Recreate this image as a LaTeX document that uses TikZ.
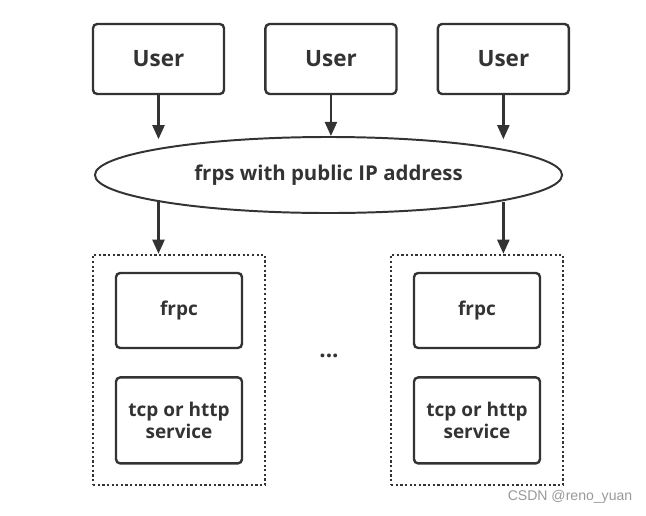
\documentclass[tikz,border=0pt]{standalone}
\usepackage{fontspec}
\setmainfont{Open Sans}
\newfontfamily\markfont{Liberation Sans}
\usetikzlibrary{positioning, shapes.geometric, arrows.meta}

\definecolor{ink}{HTML}{333333}
\definecolor{markgray}{HTML}{999999}

\begin{document}
\begin{tikzpicture}[x=0.025cm, y=-0.025cm, >={Triangle[length=10pt, width=8.5pt]}, ink, line width=1.7pt,
  userbox/.style={draw, rectangle, rounded corners=3pt, minimum width=3.275cm, minimum height=1.75cm, font=\fontsize{16}{19}\selectfont\bfseries},
  hostbox/.style={draw, rectangle, dash pattern=on 1.6pt off 1.7pt, minimum width=4.3cm, minimum height=5.75cm},
  innerbox/.style={draw, rectangle, rounded corners=3pt, minimum width=3.15cm, align=center, font=\fontsize{13.5}{16.3}\selectfont\bfseries}]

\useasboundingbox (0,0) rectangle (646,515);

% users on top
\node[userbox] (User0) at (158.5,59) {User};
\node[userbox, right=0.975cm of User0] (User1) {User};
\node[userbox, right=0.975cm of User1] (User2) {User};

% server
\node[draw, ellipse, line width=1.4pt, minimum width=11.675cm, minimum height=1.9cm, inner sep=0pt, font=\fontsize{14.5}{17}\selectfont\bfseries] (frps) at (328.5,175) {frps with public IP address};

% client hosts
\node[hostbox] (Host0) at (179,370) {};
\node[innerbox, minimum height=1.875cm, below=0.45cm of Host0.north] (frpc0) {frpc};
\node[innerbox, minimum height=2.15cm, below=0.675cm of frpc0] (Svc0) {tcp or http\\service};

\node[hostbox] (Host1) at (477,370) {};
\node[innerbox, minimum height=1.875cm, below=0.45cm of Host1.north] (frpc1) {frpc};
\node[innerbox, minimum height=2.15cm, below=0.675cm of frpc1] (Svc1) {tcp or http\\service};

\node[font=\fontsize{16}{19}\selectfont\bfseries] (gap) at (329,356) {...};

\node[markgray, font=\markfont\fontsize{10}{12}\selectfont] (mark) at (570,497) {CSDN @reno\_yuan};

% connectors
\draw[->] (User0.south) -- ([yshift=-0.08cm] User0.south |- frps.north);
\draw[->] (User1.south) -- (User1.south |- frps.north);
\draw[->] (User2.south) -- ([yshift=-0.08cm] User2.south |- frps.north);

\draw[->] (frps.188.7 -| User0) -- (User0 |- Host0.north);
\draw[->] (frps.351.3 -| User2) -- (User2 |- Host1.north);

\end{tikzpicture}
\end{document}
